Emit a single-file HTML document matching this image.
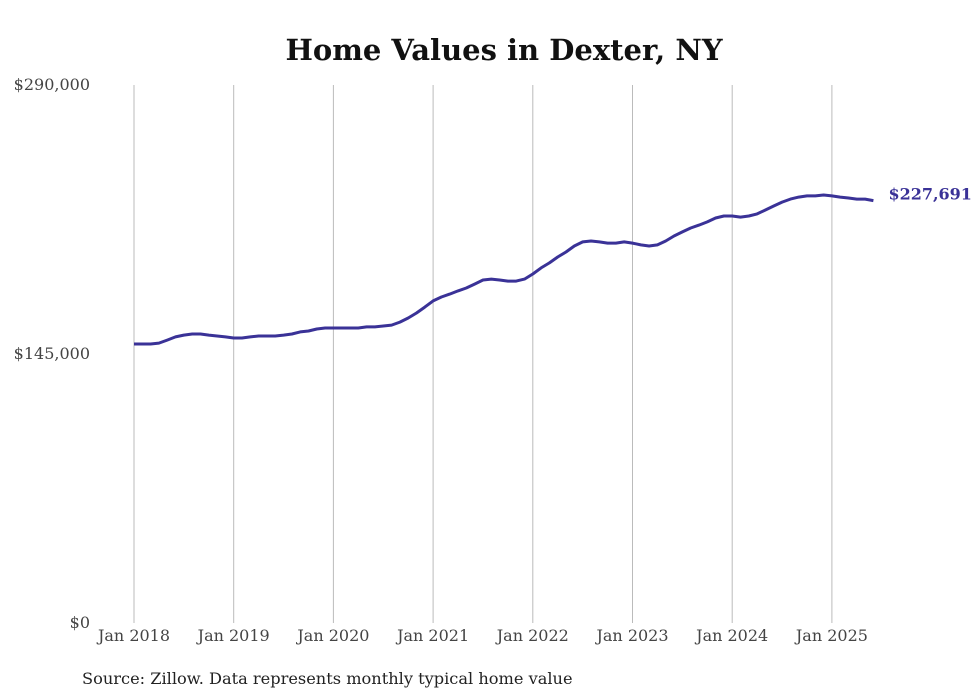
<!DOCTYPE html>
<html><head><meta charset="utf-8"><style>
body{margin:0;background:#fff;}
svg{display:block;font-family:"DejaVu Serif","Liberation Serif",serif;}
</style></head><body>
<svg id="chart" width="980" height="699">
<text x="504" y="60" text-anchor="middle" font-size="29" font-weight="bold" fill="#111">Home Values in Dexter, NY</text>
<g id="grid"></g><g id="ylab"></g><g id="xlab"></g>
<path id="line" fill="none" stroke="#3a3297" stroke-width="3" stroke-linejoin="round"/>
<text id="endlabel" font-size="16" font-weight="bold" fill="#3a3297"></text>
<text x="82" y="684" font-size="16.2" fill="#222">Source: Zillow. Data represents monthly typical home value</text>
</svg>
<script>
const xTickLabels=["Jan 2018","Jan 2019","Jan 2020","Jan 2021","Jan 2022","Jan 2023","Jan 2024","Jan 2025"];
const yTicks=[0,145000,290000];
const yTickLabels=["$0","$145,000","$290,000"];
const values=[150400,150400,150400,150900,152500,154200,155200,155800,155800,155200,154700,154200,153600,153600,154200,154700,154700,154700,155200,155800,156900,157400,158500,159000,159000,159000,159000,159000,159600,159600,160100,160600,162200,164400,167100,170300,173600,175700,177300,179000,180600,182700,184900,185400,184900,184300,184300,185400,188100,191400,194100,197300,200000,203200,205400,205900,205400,204800,204800,205400,204800,203800,203200,203800,205900,208600,210800,212900,214500,216200,218300,219400,219400,218800,219400,220500,222600,224800,226900,228500,229600,230200,230200,230700,230200,229600,229100,228500,228500,227691];
const endLabel="$227,691";
const X0=134,PX_YEAR=99.7,Y0=623,Y1=85,YMAX=290000;
const xs=i=>X0+i*PX_YEAR/12;
const ys=v=>Y0-(v/YMAX)*(Y0-Y1);
const ns="http://www.w3.org/2000/svg";
const grid=document.getElementById('grid'),xl=document.getElementById('xlab'),yl=document.getElementById('ylab');
xTickLabels.forEach((t,k)=>{
 const x=xs(k*12);
 const l=document.createElementNS(ns,'line');
 l.setAttribute('x1',x);l.setAttribute('x2',x);l.setAttribute('y1',Y1);l.setAttribute('y2',Y0);
 l.setAttribute('stroke','#bbb');l.setAttribute('stroke-width','1');
 
 
 grid.appendChild(l);
 const tx=document.createElementNS(ns,'text');
 tx.setAttribute('x',x);tx.setAttribute('y',641);tx.setAttribute('text-anchor','middle');
 tx.setAttribute('font-size','16');tx.setAttribute('fill','#444');tx.textContent=t;
 
 
 xl.appendChild(tx);
});
yTicks.forEach((v,k)=>{
 const tx=document.createElementNS(ns,'text');
 tx.setAttribute('x',90);tx.setAttribute('y',ys(v)+5);tx.setAttribute('text-anchor','end');
 tx.setAttribute('font-size','16');tx.setAttribute('fill','#444');tx.textContent=yTickLabels[k];
 
 
 yl.appendChild(tx);
});
document.getElementById('line').setAttribute('d',values.map((v,i)=>(i?'L':'M')+xs(i).toFixed(1)+' '+ys(v).toFixed(1)).join(' '));
const el=document.getElementById('endlabel');
const li=values.length-1;
el.setAttribute('x',xs(li)+15);el.setAttribute('y',ys(values[li])-1);el.textContent=endLabel;
</script>
</body></html>
